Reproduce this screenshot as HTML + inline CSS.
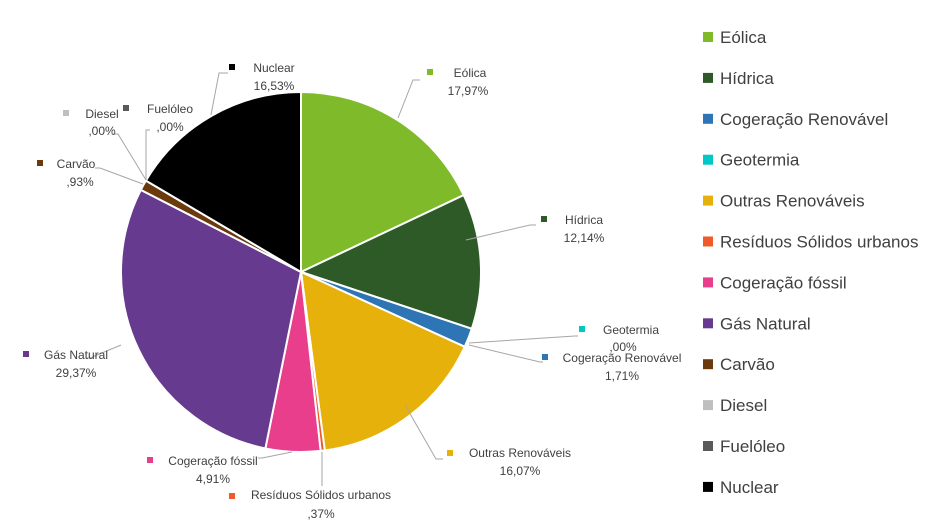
<!DOCTYPE html>
<html><head><meta charset="utf-8"><style>
body{margin:0;background:#fff;}
svg{display:block;font-family:"Liberation Sans",sans-serif;}
.l{font-size:12px;fill:#404040;text-anchor:middle;}
.g{font-size:17px;fill:#404040;}
</style></head><body>
<svg id="s" width="951" height="522" viewBox="0 0 951 522">
<g id="pie"></g>
<g stroke="#a6a6a6" fill="none" stroke-width="1">
<polyline points="211,115 219,73 228,73"/>
<polyline points="398,118 413,80 420,80"/>
<polyline points="466,240 530,225 536,225"/>
<polyline points="469,343 575,336 578,336"/>
<polyline points="469,345 540,362 543,362"/>
<polyline points="405,405 436,459 443,459"/>
<polyline points="322,452 322,486"/>
<polyline points="292,452 262,458 258,458"/>
<polyline points="121,345 90,358 86,358"/>
<polyline points="143,184 100,168 95,168"/>
<polyline points="146,180 118,134 113,134"/>
<polyline points="146,180 146,130 150,130"/>
</g>
<g>
<rect x="229" y="64" width="6" height="6" fill="#000"/><text class="l" x="274" y="72">Nuclear</text><text class="l" x="274" y="90">16,53%</text>
<rect x="427" y="69" width="6" height="6" fill="#7fba2a"/><text class="l" x="470" y="77">Eólica</text><text class="l" x="468" y="95">17,97%</text>
<rect x="541" y="216" width="6" height="6" fill="#2e5a27"/><text class="l" x="584" y="224">Hídrica</text><text class="l" x="584" y="242">12,14%</text>
<rect x="579" y="326" width="6" height="6" fill="#00c8c8"/><text class="l" x="631" y="334">Geotermia</text><text class="l" x="623" y="351">,00%</text>
<rect x="542" y="354" width="6" height="6" fill="#2e75b6"/><text class="l" x="622" y="362">Cogeração Renovável</text><text class="l" x="622" y="380">1,71%</text>
<rect x="447" y="450" width="6" height="6" fill="#e6b10a"/><text class="l" x="520" y="457">Outras Renováveis</text><text class="l" x="520" y="475">16,07%</text>
<rect x="229" y="493" width="6" height="6" fill="#f05a28"/><text class="l" x="321" y="499">Resíduos Sólidos urbanos</text><text class="l" x="321" y="518">,37%</text>
<rect x="147" y="457" width="6" height="6" fill="#e83e8c"/><text class="l" x="213" y="465">Cogeração fóssil</text><text class="l" x="213" y="483">4,91%</text>
<rect x="23" y="351" width="6" height="6" fill="#663a8e"/><text class="l" x="76" y="359">Gás Natural</text><text class="l" x="76" y="377">29,37%</text>
<rect x="37" y="160" width="6" height="6" fill="#6b3a0c"/><text class="l" x="76" y="168">Carvão</text><text class="l" x="80" y="186">,93%</text>
<rect x="63" y="110" width="6" height="6" fill="#bfbfbf"/><text class="l" x="102" y="118">Diesel</text><text class="l" x="102" y="135">,00%</text>
<rect x="123" y="105" width="6" height="6" fill="#595959"/><text class="l" x="170" y="113">Fuelóleo</text><text class="l" x="170" y="131">,00%</text>
</g>
<g id="leg"></g>
</svg>
<script>
var d=[["Eólica",17.97,"#7fba2a"],["Hídrica",12.14,"#2e5a27"],["Cogeração Renovável",1.71,"#2e75b6"],["Geotermia",0,"#00c8c8"],["Outras Renováveis",16.07,"#e6b10a"],["Resíduos Sólidos urbanos",0.37,"#f05a28"],["Cogeração fóssil",4.91,"#e83e8c"],["Gás Natural",29.37,"#663a8e"],["Carvão",0.93,"#6b3a0c"],["Diesel",0,"#bfbfbf"],["Fuelóleo",0,"#595959"],["Nuclear",16.53,"#000000"]];
var cx=301,cy=272,r=180,a=0,h="",lg="";
d.forEach(function(e,i){
 var v=e[1]/100*2*Math.PI;
 if(v>0){var x1=cx+r*Math.sin(a),y1=cy-r*Math.cos(a),a2=a+v,x2=cx+r*Math.sin(a2),y2=cy-r*Math.cos(a2);
 h+='<path d="M'+cx+','+cy+' L'+x1+','+y1+' A'+r+','+r+' 0 '+(v>Math.PI?1:0)+' 1 '+x2+','+y2+' Z" fill="'+e[2]+'" stroke="#fff" stroke-width="2"/>';a=a2;}
 var y=37+i*40.9;
 lg+='<rect x="703" y="'+(y-5)+'" width="10" height="10" fill="'+e[2]+'"/><text class="g" x="720" y="'+(y+6)+'">'+e[0]+'</text>';
});
document.getElementById("pie").innerHTML=h;
document.getElementById("leg").innerHTML=lg;
</script>
</body></html>
